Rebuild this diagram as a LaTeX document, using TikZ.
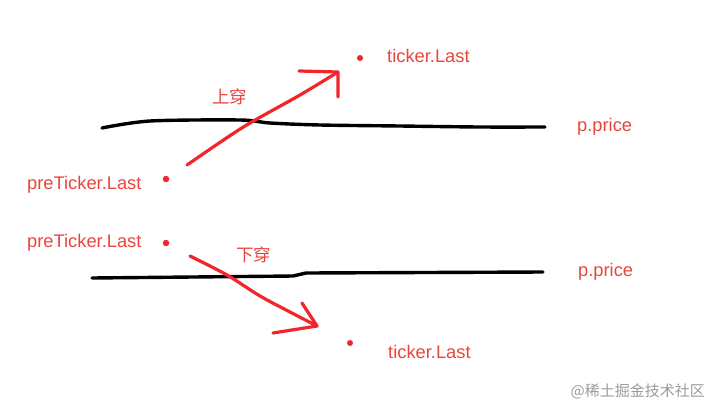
\documentclass[tikz,border=0pt]{standalone}
\usepackage{fontspec}
\setmainfont{Liberation Sans}
\newfontfamily\cjk{Noto Sans CJK SC}
\usepackage{tikz}
\usetikzlibrary{positioning}
\definecolor{inkred}{HTML}{F2262A}
\definecolor{textred}{HTML}{E8453C}
\definecolor{markgray}{HTML}{9A9A9A}

\begin{document}
\begin{tikzpicture}[x=1pt, y=-1pt,
  lbl/.style={anchor=west, inner sep=0pt, text=textred, font=\fontsize{18.3}{21}\selectfont},
  cjklbl/.style={anchor=west, inner sep=0pt, text=textred, font=\fontsize{17.5}{20}\selectfont\cjk},
  priceline/.style={line width=3.4pt, black, line cap=round, line join=round},
  stroke/.style={line width=3.2pt, inkred, line cap=round, line join=round},
  blob/.style={circle, fill=inkred, inner sep=0pt, minimum size=6.5pt}
]
  \useasboundingbox (0,0) rectangle (719,413);

  % upper case: crossing upwards
  \node[blob] (pre1) at (166,179) {};
  \node[blob, minimum size=6pt] (tick1) at (360,58) {};
  \node[lbl] (preA) at (27,185) {preTicker.Last};
  \node[lbl] (tickA) at (387,56) {ticker.Last};
  \node[lbl] (priceA) at (577,127) {p.price};
  \node[cjklbl] (upA) at (212,97) {上穿};
  \coordinate (a0) at (102,128);
  \coordinate (a1) at (545,127);
  \draw[priceline] plot[smooth] coordinates {(a0) (150,121) (240,120) (270,123) (320,125) (400,126) (480,127) (a1)};
  \coordinate (s1) at (187,165);
  \coordinate (t1) at (338,72);
  \draw[stroke] plot[smooth] coordinates {(s1) (222,141) (250,123) (300,95) (t1)};
  \draw[stroke] (299,71) -- (t1) -- (338,97);

  % lower case: crossing downwards
  \node[blob] (pre2) at (166,243) {};
  \node[blob, minimum size=6pt] (tick2) at (350,343) {};
  \node[lbl] (preB) at (27,243) {preTicker.Last};
  \node[lbl] (tickB) at (388,352) {ticker.Last};
  \node[lbl] (priceB) at (578,272) {p.price};
  \node[cjklbl] (downB) at (236,255) {下穿};
  \coordinate (b0) at (92,278);
  \coordinate (b1) at (543,272);
  \draw[priceline] (b0) -- (293,276) -- (306,273) -- (b1);
  \coordinate (s2) at (190,256);
  \coordinate (t2) at (317,326);
  \draw[stroke] plot[smooth] coordinates {(s2) (227,275) (260,296) (290,312) (t2)};
  \draw[stroke] (302,303) -- (t2) -- (273,333);

  % watermark
  \node[anchor=east, inner sep=0pt, text=markgray, font=\fontsize{15}{18}\selectfont\cjk] (mark) at (705,391) {@稀土掘金技术社区};
\end{tikzpicture}
\end{document}
